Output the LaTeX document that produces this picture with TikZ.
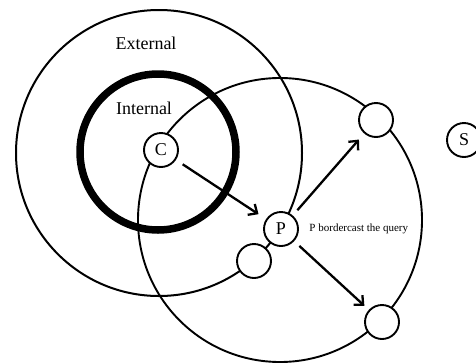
\documentclass[tikz,border=0pt]{standalone}
\usepackage{fontspec}
\setmainfont{Liberation Serif}
\usetikzlibrary{positioning,arrows.meta}

\begin{document}
\begin{tikzpicture}[x=1pt, y=-1pt, every node/.style={font=\fontsize{18}{20}\selectfont},
    peer/.style={circle, draw, line width=1.9pt, fill=white, minimum size=34pt, inner sep=0pt},
    hop/.style={-{Straight Barb[length=7pt,width=13pt]}, line width=2.3pt}]
        \useasboundingbox (0,0) rectangle (476,362);
        \draw[line width=2pt] (159,153) circle [radius=143pt];
        \draw[line width=7.5pt] (158,152) circle [radius=78pt];
        \draw[line width=1.9pt] (280,220) circle [radius=142pt];
        \node (ext) at (146,43) {External};
        \node (int) at (144,108) {Internal};
        \node[peer] (c) at (161,150) {C};
        \node[peer] (p) at (281,229) {P};
        \node[peer] (q) at (254,261) {};
        \node[peer] (n1) at (376,120) {};
        \node[peer] (n2) at (382,322) {};
        \node[peer] (s) at (464,140) {S};
        \node[right=7pt of p, font=\fontsize{11}{13}\selectfont] (msg) {P bordercast the query};
        \draw[hop, shorten <=8pt, shorten >=9pt] (c) -- (p);
        \draw[hop, shorten <=7pt, shorten >=8pt] (p) -- (n1);
        \draw[hop, shorten <=7pt, shorten >=6pt] (p) -- (n2);
      \end{tikzpicture}
\end{document}
